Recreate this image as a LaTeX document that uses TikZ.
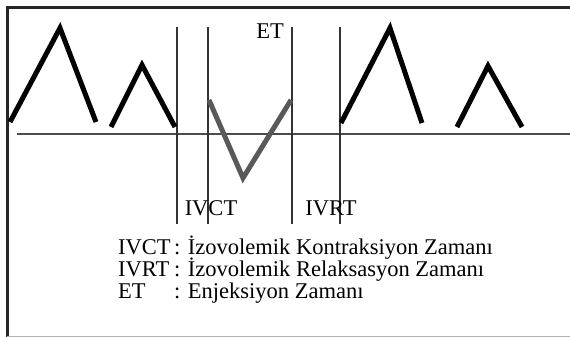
\documentclass[tikz,border=0pt]{standalone}
\usepackage{fontspec}
\setmainfont{Liberation Serif}

\begin{document}
\begin{tikzpicture}[x=1pt, y=-1pt, every node/.style={font=\fontsize{22.5}{24}\selectfont, inner sep=0pt}, wave/.style={line width=5pt, line join=miter, line cap=butt, black}, marker/.style={line width=1.6pt, black!80}, axis/.style={line width=1.6pt, black!70}]
	\useasboundingbox (0,0) rectangle (570,337);
	\draw[line width=3pt, black!85] (7,337) -- (7,8) -- (570,8);
	\draw[line width=1pt, black!30] (7,336) -- (570,336);
	\draw[axis] (17,134) -- (570,134);
	\foreach \x in {177,208,292,340} {\draw[marker] (\x,27) -- (\x,224);}
	\foreach \a/\p/\q/\b/\c in {10/122/60/28/96, 111/127/142/65/175, 341/123/390/28/422, 457/127/488/66/522} {\draw[wave] (\a,\p) -- (\q,\b) -- (\c,\p);}
	\draw[wave, black!65] (209,100) -- (243,178) -- (291,100);
	\node[anchor=base] (et) at (270,38) {ET};
	\node[anchor=base] (ivct) at (211,215) {IVCT};
	\node[anchor=base] (ivrt) at (331,215) {IVRT};
	\node[anchor=base west] (k1) at (118,254) {IVCT};
	\node[anchor=base west] (k2) at (118,276) {IVRT};
	\node[anchor=base west] (k3) at (118,298) {ET};
	\node[anchor=base west] (d1) at (174,254) {: İzovolemik Kontraksiyon Zamanı};
	\node[anchor=base west] (d2) at (174,276) {: İzovolemik Relaksasyon Zamanı};
	\node[anchor=base west] (d3) at (174,298) {: Enjeksiyon Zamanı};
\end{tikzpicture}
\end{document}
